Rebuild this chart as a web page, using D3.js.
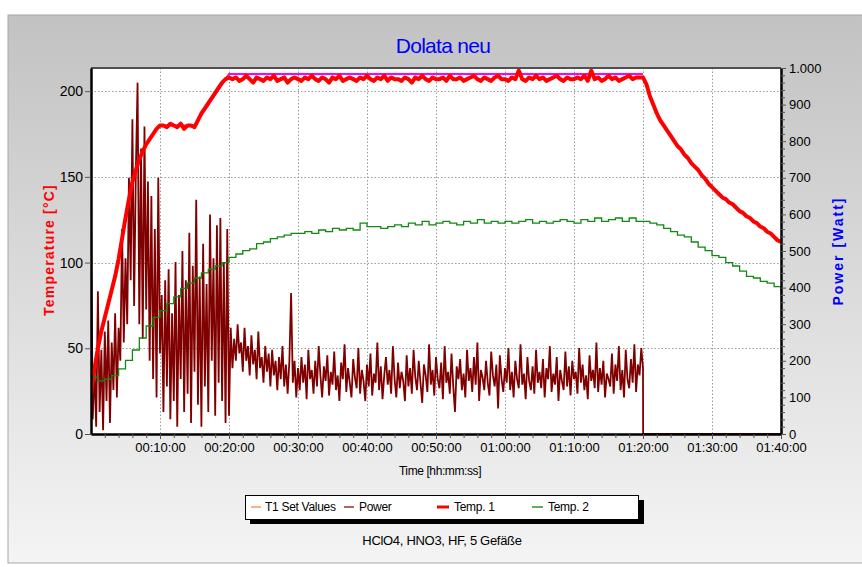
<!DOCTYPE html>
<html><head><meta charset="utf-8">
<script src="https://cdn.jsdelivr.net/npm/d3@7/dist/d3.min.js"></script>
<style>
html,body{margin:0;padding:0;background:#fff;}
text{font-family:"Liberation Sans",Arial,sans-serif;}
</style></head>
<body>
<svg id="c" width="862" height="567"></svg>
<script>
// ---- data ----
const title = "Dolata neu";
const subtitle = "HClO4, HNO3, HF, 5 Gefäße";
const seriesNames = ["T1 Set Values", "Power", "Temp. 1", "Temp. 2"];
const xTickMinutes = [10,20,30,40,50,60,70,80,90,100];
const leftTicks = [0,50,100,150,200];
const rightTicks = [0,100,200,300,400,500,600,700,800,900,1000];

// Power [W], sampled every 0.25 min from 0 to 80 min, then off
const powerStep = 0.25;
const powerValues = [
600,40,180,20,390,60,230,10,280,90,310,30,250,120,330,100,290,200,560,250,
480,300,700,420,860,350,720,960,300,780,260,840,340,690,200,650,150,560,100,700,
220,380,60,420,130,450,40,330,90,470,20,380,150,500,60,420,110,550,30,460,
170,640,80,430,20,520,130,410,60,600,200,480,50,570,140,590,90,470,30,560,50,
290,180,260,200,300,220,250,170,290,200,240,160,270,190,230,150,280,180,210,140,
240,170,220,130,230,160,200,120,210,150,240,130,190,110,200,385,140,200,100,180,
120,210,140,190,95,230,150,175,110,200,130,240,160,100,185,145,215,105,170,135,
225,120,160,90,195,150,245,115,180,140,100,205,155,125,235,110,175,145,90,190,
130,220,105,165,140,250,120,185,95,160,210,135,175,110,240,150,100,195,125,170,
145,90,215,130,180,110,230,155,120,200,140,85,190,160,115,245,135,175,105,210,
150,125,195,95,240,140,170,110,220,130,60,185,150,205,120,165,100,230,145,180,
115,210,135,250,90,175,155,120,200,140,105,225,160,130,190,70,215,150,115,180,
140,235,120,170,100,200,150,125,245,135,165,95,210,145,120,185,110,230,140,170,
125,205,100,180,150,240,115,165,135,210,90,175,145,120,225,130,185,105,200,150,
170,110,235,140,190,120,160,95,215,145,175,125,250,115,180,135,200,100,165,150,
130,220,110,190,145,240,120,175,100,230,150,125,205,140,245,115,190,160,235,180
];
const powerOffTimes = [80.02, 100];
const powerOffValues = [0, 0];

// Temp. 1 [°C], every 0.5 min
const temp1Step = 0.5;
const temp1Values = [
24,38,50,60,68,76,84,92,102,114,126,137,147,154,160,165,169,172,175,178,
180,180,179,181,180,179,181,178,180,180,179,183,187,190,193,196,199,202,205,207,208,
207,208,206,207,209,207,205,208,207,206,
208,207,209,206,207,208,205,207,208,207,
206,208,207,209,207,206,208,207,205,208,
207,209,206,207,208,207,206,208,207,209,
207,206,208,207,209,206,208,207,207,206,
208,207,205,208,207,209,207,206,208,207,
207,208,206,209,207,207,208,206,207,208,
209,207,206,208,207,206,208,209,207,207,
206,208,207,212,207,206,208,207,209,207,
208,206,207,208,209,207,206,208,207,207,
208,207,209,206,212,207,208,206,207,209,
207,208,206,207,208,209,207,208,208,
208,204,197,192,187,183,180,177,174,171,168,166,163,161,158,156,154,151,149,146,
144,142,140,138,137,135,134,132,130,129,127,126,124,123,121,120,118,117,115,113,112
];

// Temp. 2 [°C], every 1 min (stepped)
const temp2Step = 1;
const temp2Values = [
33,31,32,34,38,43,49,56,63,68,72,76,80,85,88,91,94,96,98,100,
103,105,107,108,111,112,114,115,116,117,117,118,117,119,118,120,119,120,119,123,
121,121,120,121,122,121,123,122,124,122,123,124,123,122,124,123,125,123,124,123,
124,123,124,125,123,124,123,124,125,124,123,125,124,126,124,125,126,124,126,124,
124,123,122,120,118,116,115,112,109,107,104,103,100,98,95,92,91,89,88,86,82
];

// T1 set values [°C]
const setTimes = [10, 15, 20, 80];
const setValues = [180, 180, 210, 210];

// ---- drawing ----
const svg = d3.select("#c");
const W = 862, H = 567;
const L = 91, R = 781, T = 68, B = 434;

const defs = svg.append("defs");
const grad = defs.append("linearGradient").attr("id","bg").attr("x1",0).attr("y1",0).attr("x2",0).attr("y2",1);
grad.append("stop").attr("offset","0%").attr("stop-color","#c2c2c2");
grad.append("stop").attr("offset","55%").attr("stop-color","#dedede");
grad.append("stop").attr("offset","100%").attr("stop-color","#f4f4f4");
defs.append("clipPath").attr("id","plotclip").append("rect")
  .attr("x",L).attr("y",T-1).attr("width",R-L).attr("height",B-T+1);

svg.append("rect").attr("width",W).attr("height",H).attr("fill","#fff");
svg.append("rect").attr("x",8).attr("y",15).attr("width",W).attr("height",548)
  .attr("fill","url(#bg)").attr("stroke","#a8a8a8").attr("stroke-width",1);

// title
svg.append("text").attr("x",443).attr("y",53).attr("text-anchor","middle")
  .attr("fill","#0000ff").style("font-size","21px").style("letter-spacing","-0.7px").text(title);

const x = d3.scaleLinear().domain([0,100]).range([L,R]);
const yL = d3.scaleLinear().domain([0,213.5]).range([B,T]);
const yR = d3.scaleLinear().domain([0,1000]).range([B,T]);

// plot background
svg.append("rect").attr("x",L).attr("y",T).attr("width",R-L).attr("height",B-T).attr("fill","#fff");

// grid
const grid = svg.append("g").attr("stroke","#9a9a9a").attr("stroke-width",1).attr("stroke-dasharray","1.5,2");
grid.selectAll(".gv").data(xTickMinutes.filter(d=>d<100)).join("line")
  .attr("x1",d=>Math.round(x(d))+0.5).attr("x2",d=>Math.round(x(d))+0.5).attr("y1",T).attr("y2",B);
grid.selectAll(".gh").data(leftTicks.filter(d=>d>0)).join("line")
  .attr("y1",d=>Math.round(yL(d))+0.5).attr("y2",d=>Math.round(yL(d))+0.5).attr("x1",L).attr("x2",R);

// series data
const powerData = powerValues.map((v,i)=>[i*powerStep, v]).concat(powerOffTimes.map((t,i)=>[t, powerOffValues[i]]));
const temp1Data = temp1Values.map((v,i)=>[i*temp1Step, v]);
const temp2Data = temp2Values.map((v,i)=>[i*temp2Step, v]);
const setData = setTimes.map((t,i)=>[t, setValues[i]]);

const plot = svg.append("g").attr("clip-path","url(#plotclip)");
const lineR = d3.line().x(d=>x(d[0])).y(d=>yR(d[1]));
const lineL = d3.line().x(d=>x(d[0])).y(d=>yL(d[1]));
const lineStep = d3.line().x(d=>x(d[0])).y(d=>yL(d[1])).curve(d3.curveStepAfter);

plot.append("path").datum(powerData).attr("d",lineR).attr("fill","none")
  .attr("stroke","#800000").attr("stroke-width",1.8).attr("stroke-linejoin","miter");
plot.append("path").datum(setData).attr("d",lineL).attr("fill","none")
  .attr("stroke","#ff00ff").attr("stroke-width",2);
plot.append("path").datum(temp1Data).attr("d",lineL).attr("fill","none")
  .attr("stroke","#ff0000").attr("stroke-width",4).attr("stroke-linejoin","round");
plot.append("path").datum(temp2Data).attr("d",lineStep).attr("fill","none")
  .attr("stroke","#118811").attr("stroke-width",1.3);

// frame
svg.append("line").attr("x1",L).attr("x2",R).attr("y1",T).attr("y2",T).attr("stroke","#505050").attr("stroke-width",2);

// axes
const fmtTime = m => { const h = Math.floor(m/60), mm = m%60; return String(h).padStart(2,"0")+":"+String(mm).padStart(2,"0")+":00"; };
const fmtDe = v => v >= 1000 ? d3.format(",")(v).replace(/,/g,".") : String(v);

function styleAxis(g){
  g.select(".domain").attr("stroke","#000").attr("stroke-width",2.5);
  g.selectAll(".tick line").attr("stroke","#555");
  g.selectAll(".tick text").attr("fill","#000").style("font-size","13px").style("font-family","'Liberation Sans',Arial,sans-serif");
}

const gx = svg.append("g").attr("transform",`translate(0,${B})`)
  .call(d3.axisBottom(x).tickValues(xTickMinutes).tickFormat(fmtTime).tickSize(5).tickPadding(4).tickSizeOuter(0));
styleAxis(gx);
const xMinor = d3.range(2,100,2).filter(d=>d%10!==0);
svg.append("g").attr("transform",`translate(0,${B})`)
  .call(d3.axisBottom(x).tickValues(xMinor).tickFormat("").tickSize(4).tickSizeOuter(0))
  .call(g=>{g.select(".domain").remove(); g.selectAll("line").attr("stroke","#555");});

const gl = svg.append("g").attr("transform",`translate(${L},0)`)
  .call(d3.axisLeft(yL).tickValues(leftTicks).tickSize(6).tickPadding(2).tickSizeOuter(0));
styleAxis(gl);
gl.selectAll(".tick text").style("font-size","14px");

const gr = svg.append("g").attr("transform",`translate(${R},0)`)
  .call(d3.axisRight(yR).tickValues(rightTicks).tickFormat(fmtDe).tickSize(5).tickPadding(3).tickSizeOuter(0));
styleAxis(gr);
const rMinor = d3.range(20,1000,20).filter(d=>d%100!==0);
svg.append("g").attr("transform",`translate(${R},0)`)
  .call(d3.axisRight(yR).tickValues(rMinor).tickFormat("").tickSize(4).tickSizeOuter(0))
  .call(g=>{g.select(".domain").remove(); g.selectAll("line").attr("stroke","#555");});

// axis titles
svg.append("text").attr("transform","translate(54,250) rotate(-90)").attr("text-anchor","middle")
  .attr("fill","#ff0000").style("font-size","14px").style("font-weight","bold").style("letter-spacing","1.2px")
  .text("Temperature [°C]");
svg.append("text").attr("transform","translate(843,251) rotate(-90)").attr("text-anchor","middle")
  .attr("fill","#0000ff").style("font-size","14px").style("font-weight","bold").style("letter-spacing","2px")
  .text("Power [Watt]");
svg.append("text").attr("x",440).attr("y",475).attr("text-anchor","middle").attr("fill","#000")
  .style("font-size","12px").style("letter-spacing","-0.4px").text("Time [hh:mm:ss]");

// legend
const leg = svg.append("g");
leg.append("rect").attr("x",250).attr("y",500).attr("width",394).attr("height",24).attr("fill","#000");
leg.append("rect").attr("x",245.5).attr("y",495.5).attr("width",393).attr("height",24).attr("fill","#fff").attr("stroke","#000").attr("stroke-width",1);
const legColors = ["#f4a070","#a03c3c","#ff0000","#339933"];
const legWidths = [1.6,1.6,3,1.6];
const legSwX = [251,344,437,532];
const legSwLen = [10,10,12,11];
const legTxX = [265,359,454,548];
seriesNames.forEach((n,i)=>{
  leg.append("line").attr("x1",legSwX[i]).attr("x2",legSwX[i]+legSwLen[i]).attr("y1",507).attr("y2",507)
    .attr("stroke",legColors[i]).attr("stroke-width",legWidths[i]);
  leg.append("text").attr("x",legTxX[i]).attr("y",511).attr("fill","#000").style("font-size","12px")
    .style("letter-spacing","-0.3px").text(n);
});

// subtitle
svg.append("text").attr("x",442).attr("y",545).attr("text-anchor","middle").attr("fill","#000")
  .style("font-size","13px").style("letter-spacing","-0.3px").text(subtitle);
</script>
</body></html>
